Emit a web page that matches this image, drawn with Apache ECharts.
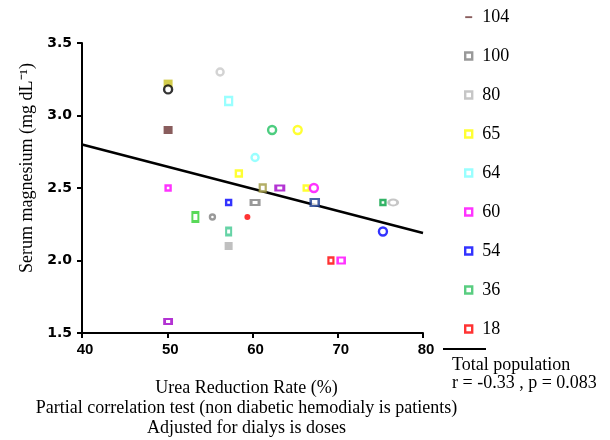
<!DOCTYPE html>
<html>
<head>
<meta charset="utf-8">
<script src="https://cdn.jsdelivr.net/npm/echarts@6/dist/echarts.min.js"></script>
<style>
  html, body { margin: 0; padding: 0; background: #fff; }
  #chart { width: 610px; height: 440px; }
</style>
</head>
<body>
<div id="chart"></div>
<script>
// urea reduction rate (%) and serum magnesium (mg/dL) per patient
const urr = [50.1, 50.1, 56.2, 57.2, 50.1, 62.3, 65.3, 60.3, 58.4, 50.1, 61.2, 63.2, 66.3, 67.2,
             57.2, 60.3, 67.3, 75.3, 76.5, 53.3, 55.3, 59.4, 57.2, 75.3, 57.2, 69.2, 70.4, 50.1];
const serumMg = [3.22, 3.18, 3.30, 3.10, 2.90, 2.90, 2.90, 2.71, 2.60, 2.50, 2.50, 2.50, 2.50, 2.50,
                 2.40, 2.40, 2.40, 2.40, 2.40, 2.30, 2.30, 2.30, 2.20, 2.20, 2.10, 2.00, 2.00, 1.58];

// regression line end points (total population)
const fitX = [40, 80];
const fitY = [2.80, 2.19];

// legend groups
const groups = ['104', '100', '80', '65', '64', '60', '54', '36', '18'];
const groupColors = ['#6b3535', '#808080', '#b8b8b8', '#ffff00', '#80ffff', '#ff00ff', '#0000ff', '#30c060', '#ff0000'];

const xTicks = [40, 50, 60, 70, 80];
const yTicks = [1.5, 2.0, 2.5, 3.0, 3.5];

// marker look for each point: colour, shape, width, height, filled
const markStyle = [
    ['#c8c020', 'rect', 9, 8, true],
    ['#000000', 'circle', 10, 10, false],
    ['#c8c8c8', 'circle', 9, 9, false],
    ['#80ffff', 'rect', 9, 10, false],
    ['#6b3535', 'rect', 9, 8, true],
    ['#20c060', 'circle', 10, 10, false],
    ['#ffff00', 'circle', 10, 10, false],
    ['#80ffff', 'circle', 9, 9, false],
    ['#ffff00', 'rect', 8, 8, false],
    ['#ff00ff', 'rect', 7, 7, false],
    ['#a09a40', 'rect', 8, 9, false],
    ['#a000c8', 'rect', 10, 7, false],
    ['#ffff00', 'rect', 7, 7, false],
    ['#ff00ff', 'circle', 10, 10, false],
    ['#0000ff', 'rect', 7, 7, false],
    ['#808080', 'rect', 10, 7, false],
    ['#1c3c90', 'rect', 10, 9, false],
    ['#00a040', 'rect', 7, 7, false],
    ['#b8b8b8', 'circle', 11, 8, false],
    ['#30d030', 'rect', 8, 11, false],
    ['#808080', 'circle', 7, 7, false],
    ['#ff0000', 'circle', 6, 6, true],
    ['#40c890', 'rect', 7, 9, false],
    ['#0000ff', 'circle', 10, 10, false],
    ['#b0b0b0', 'rect', 8, 8, true],
    ['#ff0000', 'rect', 7, 8, false],
    ['#ff00ff', 'rect', 9, 8, false],
    ['#a000c8', 'rect', 9, 7, false]
];

const points = urr.map((x, i) => {
    const [c, shape, w, h, filled] = markStyle[i];
    return {
        value: [x, serumMg[i]],
        symbol: shape,
        symbolSize: filled ? [w, h] : [w - 2, h - 2],
        itemStyle: filled
            ? { color: c, borderWidth: 0 }
            : { color: '#fff', borderColor: c, borderWidth: 2.4 }
    };
});

const serif = 'Liberation Serif, Times New Roman, serif';

const groupSeries = groups.map((g, i) => ({
    name: g,
    type: 'scatter',
    data: [],
    itemStyle: { color: groupColors[i] }
}));

const legendData = groups.map((g, i) => i === 0
    ? { name: g, icon: 'path://M0,0M9,8M0,3h9v2.4H0z', itemStyle: { color: groupColors[i], borderWidth: 0 } }
    : { name: g, icon: 'rect', itemStyle: { color: '#fff', borderColor: groupColors[i], borderWidth: 2.4 } });

const chart = echarts.init(document.getElementById('chart'));
chart.setOption({
    animation: false,
    backgroundColor: '#fff',
    grid: { left: 82, right: 187, top: 43, bottom: 107, outerBoundsMode: 'none' },
    legend: {
        orient: 'vertical',
        left: 459,
        top: 3,
        itemWidth: 7,
        itemHeight: 7,
        itemGap: 21,
        selectedMode: false,
        data: legendData,
        textStyle: { fontFamily: serif, fontSize: 18, color: '#000', lineHeight: 17, padding: [0, 0, 0, 5] }
    },
    xAxis: {
        type: 'value',
        min: xTicks[0],
        max: xTicks[xTicks.length - 1],
        interval: 10,
        splitLine: { show: false },
        axisLine: { lineStyle: { color: '#000', width: 2 } },
        axisTick: { length: 5, lineStyle: { color: '#000', width: 2 } },
        axisLabel: {
            margin: 9, color: '#000', fontFamily: 'Liberation Sans Narrow, Arial Narrow, sans-serif',
            fontWeight: 'bold', fontSize: 15, padding: [0, 0, 0, 6]
        },
        name: 'Urea Reduction Rate (%)\nPartial correlation test (non diabetic hemodialy is patients)\nAdjusted for dialys is doses',
        nameLocation: 'middle',
        nameGap: 45,
        nameTextStyle: { fontFamily: serif, fontSize: 18, color: '#000', lineHeight: 20, padding: [0, 12, 0, 0] }
    },
    yAxis: {
        type: 'value',
        min: yTicks[0],
        max: yTicks[yTicks.length - 1],
        interval: 0.5,
        splitLine: { show: false },
        axisLine: { show: true, lineStyle: { color: '#000', width: 2 } },
        axisTick: { show: true, length: 5, lineStyle: { color: '#000', width: 2 } },
        axisLabel: {
            margin: 10, color: '#000', fontFamily: 'DejaVu Sans', fontWeight: 'bold', fontSize: 14,
            formatter: v => v.toFixed(1)
        },
        name: 'Serum magnesium (mg dL⁻¹)',
        nameLocation: 'middle',
        nameGap: 39,
        nameTextStyle: { fontFamily: serif, fontSize: 18, color: '#000', padding: [0, 0, 0, 40] }
    },
    graphic: [
        { type: 'line', shape: { x1: 443, y1: 349, x2: 486, y2: 349 }, style: { stroke: '#000', lineWidth: 2 } },
        { type: 'text', left: 452, top: 356, style: { text: 'Total population', font: '18px ' + serif, fill: '#000' } },
        { type: 'text', left: 452, top: 374, style: { text: 'r = -0.33 , p = 0.083', font: '18px ' + serif, fill: '#000' } }
    ],
    series: [
        {
            name: 'Total population',
            type: 'line',
            data: fitX.map((x, i) => [x, fitY[i]]),
            symbol: 'none',
            lineStyle: { color: '#000', width: 2.5 },
            z: 1
        },
        {
            name: 'patients',
            type: 'scatter',
            data: points,
            z: 3
        }
    ].concat(groupSeries)
});
</script>
</body>
</html>
